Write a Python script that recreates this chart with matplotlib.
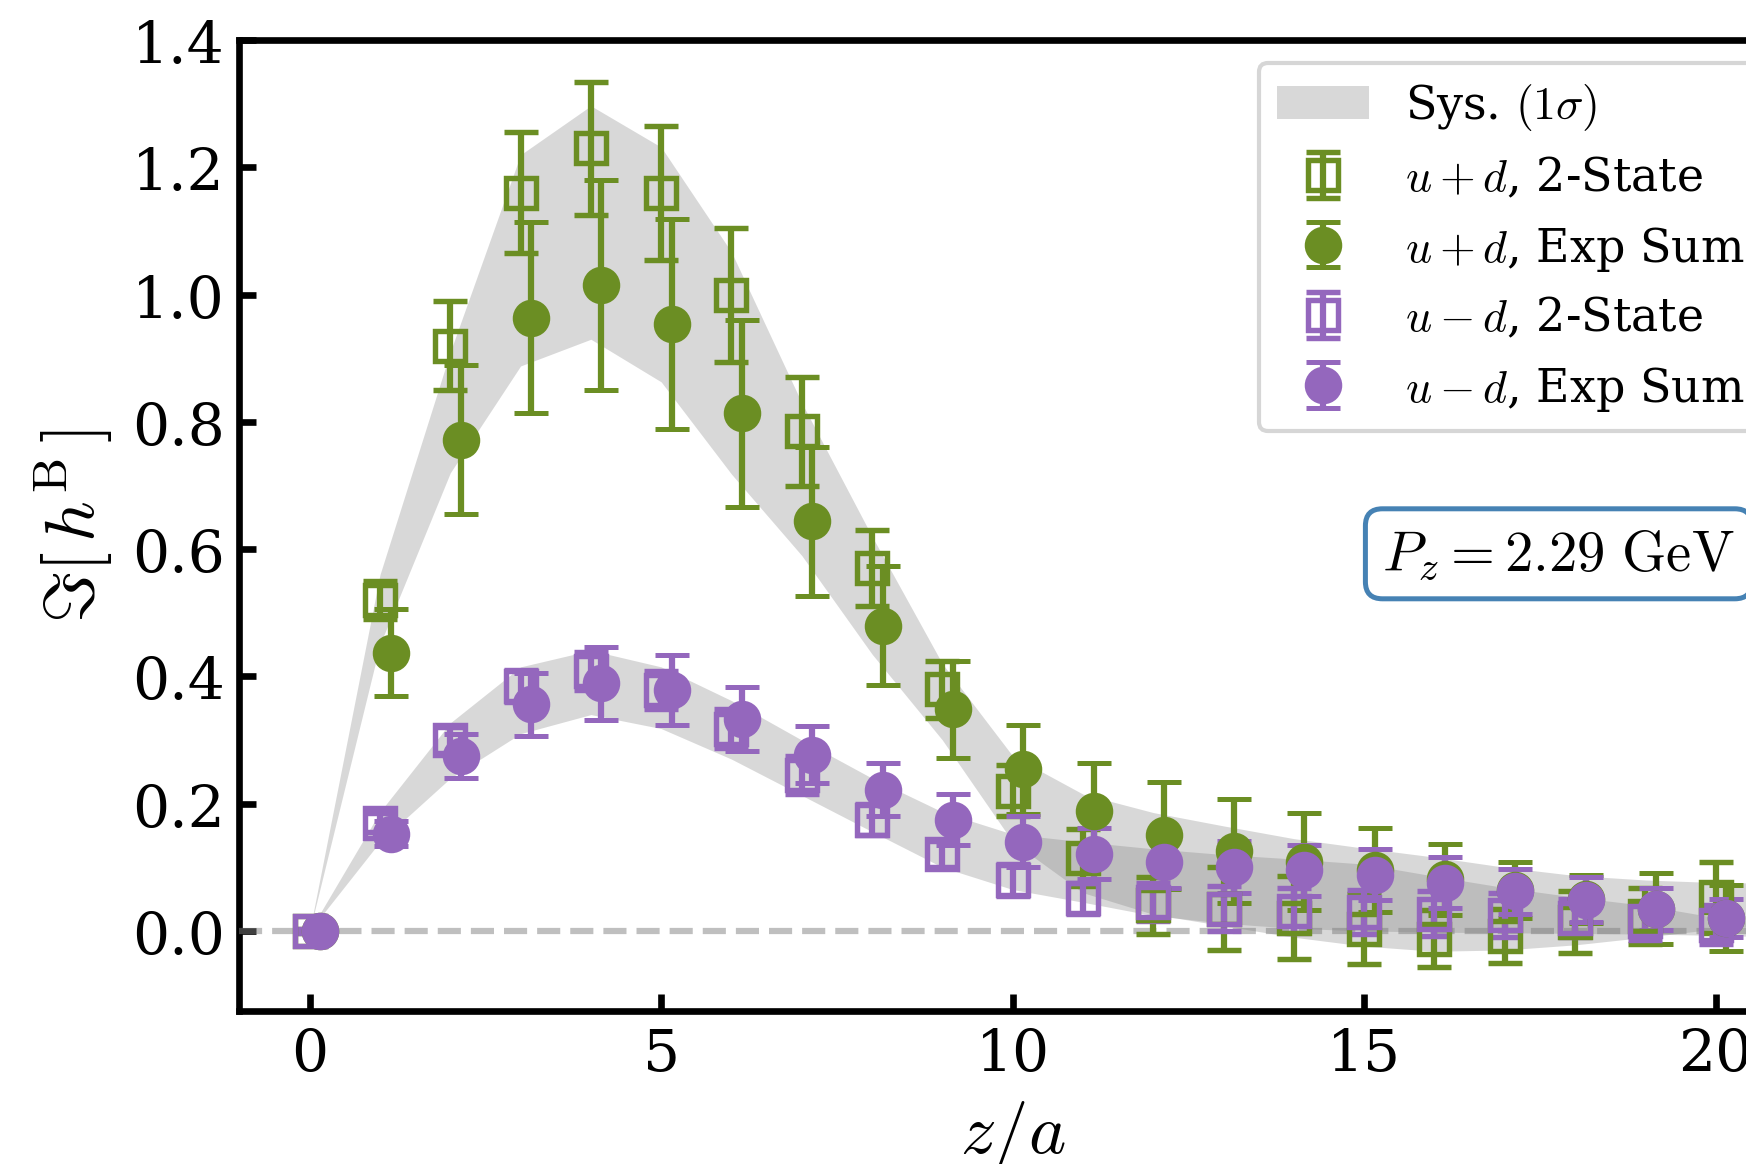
import matplotlib
matplotlib.use("Agg")
import matplotlib.pyplot as plt

plt.rcParams["font.family"] = "serif"
plt.rcParams["font.serif"] = ["DejaVu Serif"]
plt.rcParams["mathtext.fontset"] = "cm"

# z/a positions of the lattice data
z_vals = list(range(21))
# u+d, 2-State fit
upd_2st = [0.0, 0.52, 0.92, 1.16, 1.23, 1.16, 1.0, 0.785, 0.57, 0.38, 0.22, 0.115, 0.04,
           0.035, 0.021, 0.003, -0.012, -0.008, 0.014, 0.024, 0.053]
upd_2st_err = [0.003, 0.03, 0.07, 0.095, 0.105, 0.105, 0.105, 0.085, 0.06, 0.045, 0.04, 0.045,
               0.045, 0.065, 0.065, 0.055, 0.045, 0.043, 0.048, 0.044, 0.056]
# u+d, exponential sum
upd_exp = [0.0, 0.4375, 0.772, 0.964, 1.015, 0.954, 0.814, 0.644, 0.48, 0.348, 0.254, 0.189,
           0.15, 0.126, 0.109, 0.095, 0.081, 0.065, 0.05, 0.035, 0.02]
upd_exp_err = [0.003, 0.068, 0.117, 0.15, 0.165, 0.165, 0.147, 0.117, 0.094, 0.077, 0.07, 0.075,
               0.084, 0.082, 0.076, 0.066, 0.056, 0.044, 0.038, 0.056, 0.052]
# u-d, 2-State fit
umd_2st = [0.0, 0.17, 0.30, 0.385, 0.408, 0.378, 0.318, 0.245, 0.175, 0.121, 0.08, 0.051, 0.045,
           0.035, 0.032, 0.03, 0.027, 0.025, 0.02, 0.016, 0.01]
umd_2st_err = [0.003, 0.015, 0.02, 0.025, 0.03, 0.03, 0.03, 0.03, 0.025, 0.02, 0.025, 0.025,
               0.03, 0.035, 0.035, 0.035, 0.035, 0.035, 0.03, 0.03, 0.03]
# u-d, exponential sum
umd_exp = [0.0, 0.153, 0.275, 0.356, 0.389, 0.378, 0.333, 0.277, 0.222, 0.175, 0.14, 0.121,
           0.108, 0.1, 0.095, 0.088, 0.076, 0.062, 0.049, 0.034, 0.02]
umd_exp_err = [0.003, 0.02, 0.035, 0.05, 0.057, 0.055, 0.05, 0.045, 0.042, 0.04, 0.04, 0.04,
               0.04, 0.041, 0.04, 0.04, 0.04, 0.036, 0.035, 0.033, 0.03]

# systematic (1 sigma) bands
z_band = list(range(22))
upd_sys_lo = [0.0, 0.45, 0.72, 0.888, 0.93, 0.863, 0.718, 0.59, 0.435, 0.30, 0.14, 0.06, 0.026,
              0.008, -0.01, -0.024, -0.032, -0.03, -0.022, -0.01, 0.003, 0.01]
upd_sys_hi = [0.0, 0.56, 0.91, 1.22, 1.297, 1.232, 1.067, 0.83, 0.62, 0.42, 0.275, 0.215, 0.186,
              0.165, 0.145, 0.13, 0.116, 0.10, 0.087, 0.08, 0.076, 0.075]
umd_sys_lo = [0.0, 0.14, 0.24, 0.31, 0.34, 0.318, 0.27, 0.213, 0.156, 0.10, 0.065, 0.045, 0.024,
              0.012, 0.004, 0.0, -0.002, -0.003, -0.004, -0.005, -0.007, -0.01]
umd_sys_hi = [0.0, 0.187, 0.327, 0.415, 0.441, 0.415, 0.362, 0.30, 0.24, 0.187, 0.152, 0.14,
              0.129, 0.12, 0.113, 0.105, 0.086, 0.068, 0.053, 0.04, 0.021, 0.01]

x_ticks = [0, 5, 10, 15, 20]
y_ticks = [0.0, 0.2, 0.4, 0.6, 0.8, 1.0, 1.2, 1.4]

green = "#6b8e23"
purple = "#9467bd"
shift = 0.15

fig = plt.figure(figsize=(5.82, 3.8833), dpi=300)
ax = fig.add_axes([0.1371, 0.1313, 0.8858, 0.8333])

band = ax.fill_between(z_band, upd_sys_lo, upd_sys_hi, color="gray", alpha=0.3, lw=0, zorder=1)
ax.fill_between(z_band, umd_sys_lo, umd_sys_hi, color="gray", alpha=0.3, lw=0, zorder=1)

ax.axhline(0.0, color="gray", alpha=0.5, ls="--", lw=1.5, zorder=2.6)

sq_kw = dict(fmt="s", mfc="none", ms=7, mew=1.3, elinewidth=1.5, capsize=4, capthick=1.2, zorder=3)
ci_kw = dict(fmt="o", ms=8, elinewidth=1.5, capsize=4, capthick=1.2, zorder=3)

h1 = ax.errorbar(z_vals, upd_2st, yerr=upd_2st_err, color=green, mec=green, **sq_kw)
h2 = ax.errorbar([z + shift for z in z_vals], upd_exp, yerr=upd_exp_err, color=green, **ci_kw)
h3 = ax.errorbar(z_vals, umd_2st, yerr=umd_2st_err, color=purple, mec=purple, **sq_kw)
h4 = ax.errorbar([z + shift for z in z_vals], umd_exp, yerr=umd_exp_err, color=purple, **ci_kw)

ax.legend([band, h1, h2, h3, h4],
          [r"Sys. $(1\sigma)$", r"$u+d$, 2-State", r"$u+d$, Exp Sum",
           r"$u-d$, 2-State", r"$u-d$, Exp Sum"],
          loc="upper right", fontsize=11.0, labelspacing=0.5)

ax.text(0.853, 0.471, r"$P_z = 2.29\ \mathrm{GeV}$", transform=ax.transAxes, fontsize=13.6,
        ha="center", va="center",
        bbox=dict(boxstyle="round,pad=0.3", fc="white", ec="#4682b4", lw=1.2))

ax.set_xlim(-1, 21)
ax.set_ylim(-0.126, 1.4)
ax.set_xticks(x_ticks)
ax.set_yticks(y_ticks)
ax.set_yticklabels([f"{v:.1f}" for v in y_ticks])
ax.tick_params(direction="in", length=4, width=1.6, labelsize=14)
for sp in ax.spines.values():
    sp.set_linewidth(1.6)

ax.set_xlabel(r"$z/a$", fontsize=17)
ax.set_ylabel(r"$\Im[\,h^{\rm B}\,]$", fontsize=17)

fig.savefig("out.png", dpi=300)
